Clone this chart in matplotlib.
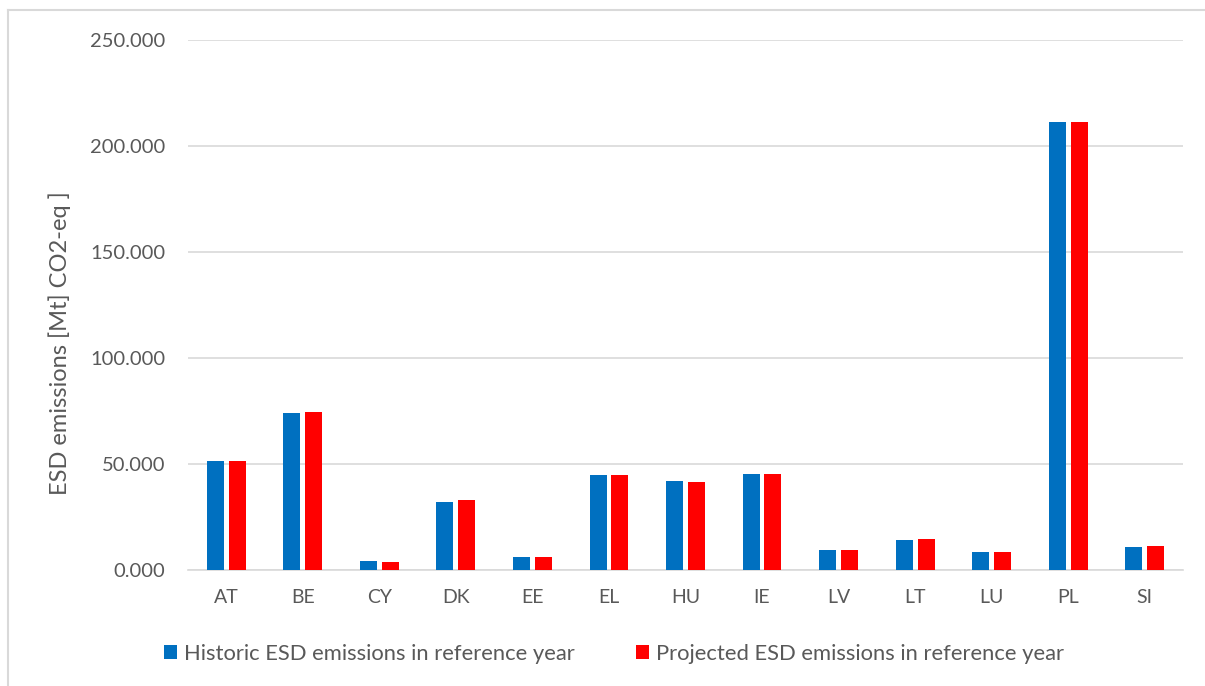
import numpy as np
import matplotlib
matplotlib.use("Agg")
import matplotlib.pyplot as plt
from matplotlib.lines import Line2D
from matplotlib.ticker import FuncFormatter

countries = ["AT", "BE", "CY", "DK", "EE", "EL", "HU", "IE", "LV", "LT", "LU", "PL", "SI"]
historic = [51.4, 73.9, 4.1, 32.3, 6.1, 44.8, 42.0, 45.3, 9.3, 14.0, 8.6, 211.3, 10.7]
projected = [51.4, 74.4, 3.9, 33.0, 6.0, 44.6, 41.7, 45.3, 9.3, 14.5, 8.7, 211.3, 11.2]

BLUE = "#0070C0"
RED = "#FF0000"
TEXT = "#595959"
GRID = "#D9D9D9"

plt.rcParams["font.family"] = ["Lato", "DejaVu Sans"]

fig = plt.figure(figsize=(12.05, 6.86), dpi=100)
ax = fig.add_axes([188 / 1205, 1 - 570 / 686, (1183 - 188) / 1205, (570 - 40) / 686])

x = np.arange(len(countries))
w = 0.222
off = 0.143
ax.bar(x - off, historic, w, color=BLUE, label="Historic ESD emissions in reference year", zorder=3)
ax.bar(x + off, projected, w, color=RED, label="Projected ESD emissions in reference year", zorder=3)

ax.set_xlim(-0.5, len(countries) - 0.5)
ax.set_ylim(0, 250)
ax.set_yticks(np.arange(0, 251, 50))
ax.yaxis.set_major_formatter(FuncFormatter(lambda v, p: f"{v:.3f}"))
ax.set_xticks(x)
ax.set_xticklabels(countries)
ax.grid(axis="y", color=GRID, lw=1.2, zorder=0)
for s in ["top", "right", "left"]:
    ax.spines[s].set_visible(False)
ax.spines["bottom"].set_color(GRID)
ax.spines["bottom"].set_linewidth(1.2)
ax.tick_params(axis="y", length=0, labelsize=14.5, colors=TEXT, pad=16.5)
ax.tick_params(axis="x", length=0, labelsize=14, colors=TEXT, pad=14)
ax.set_ylabel("ESD emissions [Mt] CO2-eq ]", fontsize=17, color=TEXT)
ax.yaxis.set_label_coords(60 / 1205, 0.5, transform=fig.transFigure)
ax.yaxis.label.set_va("center")

fig.legend(*ax.get_legend_handles_labels(), loc="center",
           bbox_to_anchor=(614 / 1205, 1 - 654 / 686), ncol=2, frameon=False,
           fontsize=15.8, labelcolor=TEXT, handlelength=0.6, handleheight=0.62,
           handletextpad=0.3, columnspacing=2.8, borderpad=0, borderaxespad=0)

# chart frame: top and left edges only
fig.add_artist(Line2D([8 / 1205, 1], [1 - 10 / 686] * 2, color=GRID, lw=1.5))
fig.add_artist(Line2D([8 / 1205] * 2, [0, 1 - 10 / 686], color=GRID, lw=1.5))

fig.savefig("out.png", dpi=100)
